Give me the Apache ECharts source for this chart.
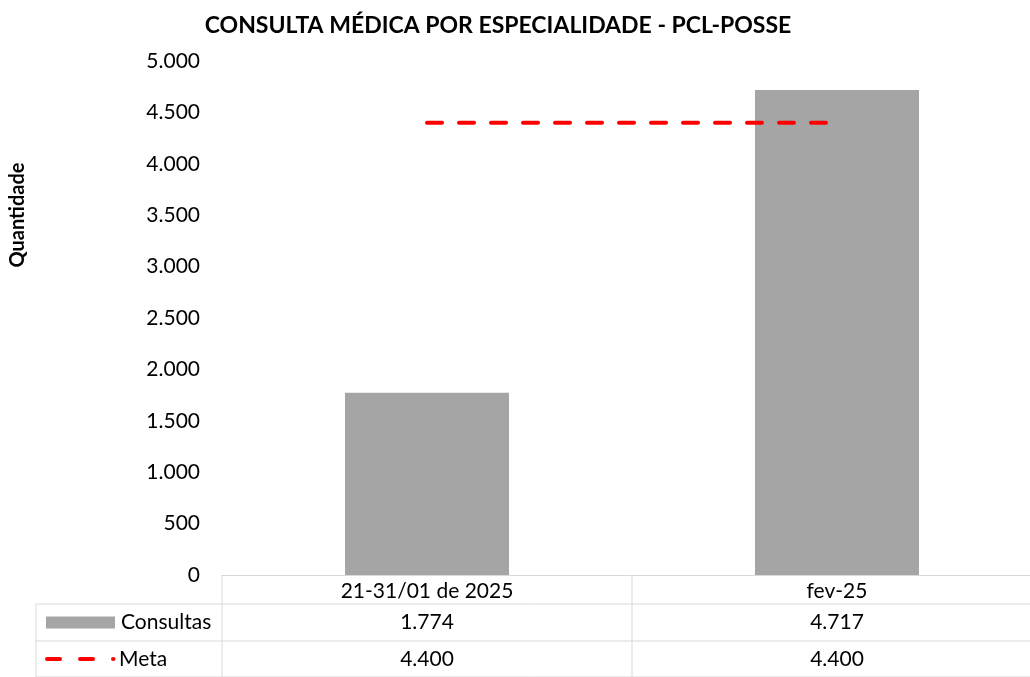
<!DOCTYPE html>
<html><head><meta charset="utf-8">
<script src="https://cdn.jsdelivr.net/npm/echarts@6/dist/echarts.min.js"></script>
<style>html,body{margin:0;padding:0;background:#fff}#c{width:1030px;height:677px}</style>
</head><body><div id="c"></div>
<script>
var title = 'CONSULTA MÉDICA POR ESPECIALIDADE - PCL-POSSE';
var categories = ['21-31/01 de 2025', 'fev-25'];
var consultas = [1774, 4717];
var meta = [4400, 4400];
var yTicks = [0, 500, 1000, 1500, 2000, 2500, 3000, 3500, 4000, 4500, 5000];

var FONT = 'Lato';
var FS = 21;
function fmt(v){ return String(v).replace(/\B(?=(\d{3})+(?!\d))/g, '.'); }

var chart = echarts.init(document.getElementById('c'), null, {renderer:'canvas'});
var gridL = 222, gridT = 61, gridB = 102;
chart.setOption({
  animation:false,
  title:{text:title, left:493, top:9, textAlign:'center',
    textStyle:{fontFamily:FONT, fontWeight:'bold', fontSize:23, color:'#000'}},
  grid:{left:gridL, width:820, top:gridT, bottom:gridB, outerBoundsMode:'none', containLabel:false},
  xAxis:{type:'category', data:categories,
    axisLine:{show:true, lineStyle:{color:'#D9D9D9', width:1}},
    axisTick:{show:false},
    axisLabel:{fontFamily:FONT, fontSize:FS, color:'#000', margin:6}},
  yAxis:{type:'value', min:yTicks[0], max:yTicks[yTicks.length-1], interval:500,
    splitLine:{show:false}, axisLine:{show:false}, axisTick:{show:false},
    axisLabel:{fontFamily:FONT, fontSize:FS, color:'#000', margin:22, formatter:function(v){return fmt(v);}}},
  series:[
    {name:'Consultas', type:'bar', data:consultas, barWidth:'40%', itemStyle:{color:'#A5A5A5'}},
    {name:'Meta', type:'line', data:meta, symbol:'none',
      lineStyle:{color:'#FF0000', width:4, type:[15,17], cap:'round'}}
  ]
});

var x0 = chart.convertToPixel({xAxisIndex:0}, categories[0]);
var x1 = chart.convertToPixel({xAxisIndex:0}, categories[1]);
var half = (x1 - x0)/2;
var axisY = chart.convertToPixel({yAxisIndex:0}, 0);
var right = x1 + half, left = x0 - half, mid = x0 + half;
var legL = 36;
var r1 = axisY + 29, r2 = axisY + 66, r3 = axisY + 102;
var lc = '#D9D9D9';
var els = [];
function line(xa,ya,xb,yb){ els.push({type:'line', shape:{x1:xa,y1:ya,x2:xb,y2:yb}, style:{stroke:lc, lineWidth:1}}); }
[left, mid, right].forEach(function(x){ line(x, axisY, x, r3); });
line(legL, r1, legL, r3);
line(legL, r1, right, r1); line(legL, r2, right, r2); line(legL, r3, right, r3);
function txt(x,y,s,align){ els.push({type:'text', x:x, y:y, style:{text:s, fontFamily:FONT, fontSize:FS, fill:'#000', textAlign:align||'center', textVerticalAlign:'middle'}}); }
var rows = [[consultas, (r1+r2)/2], [meta, (r2+r3)/2]];
rows.forEach(function(r){ txt(x0, r[1], fmt(r[0][0])); txt(x1, r[1], fmt(r[0][1])); });
// legend keys
var ya = (r1+r2)/2, yb = (r2+r3)/2;
els.push({type:'rect', shape:{x:46, y:ya-6, width:69, height:12}, style:{fill:'#A5A5A5'}});
txt(121, ya, 'Consultas', 'left');
els.push({type:'line', shape:{x1:47,y1:yb,x2:113.5,y2:yb}, style:{stroke:'#FF0000', lineWidth:4, lineDash:[13,20], lineCap:'round'}});
txt(119, yb, 'Meta', 'left');
// y axis name
els.push({type:'text', x:18, y:215, rotation:Math.PI/2, style:{text:'Quantidade', fontFamily:FONT, fontWeight:'bold', fontSize:20, fill:'#000', textAlign:'center', textVerticalAlign:'middle'}});
chart.setOption({graphic:{elements:els}});
</script></body></html>
